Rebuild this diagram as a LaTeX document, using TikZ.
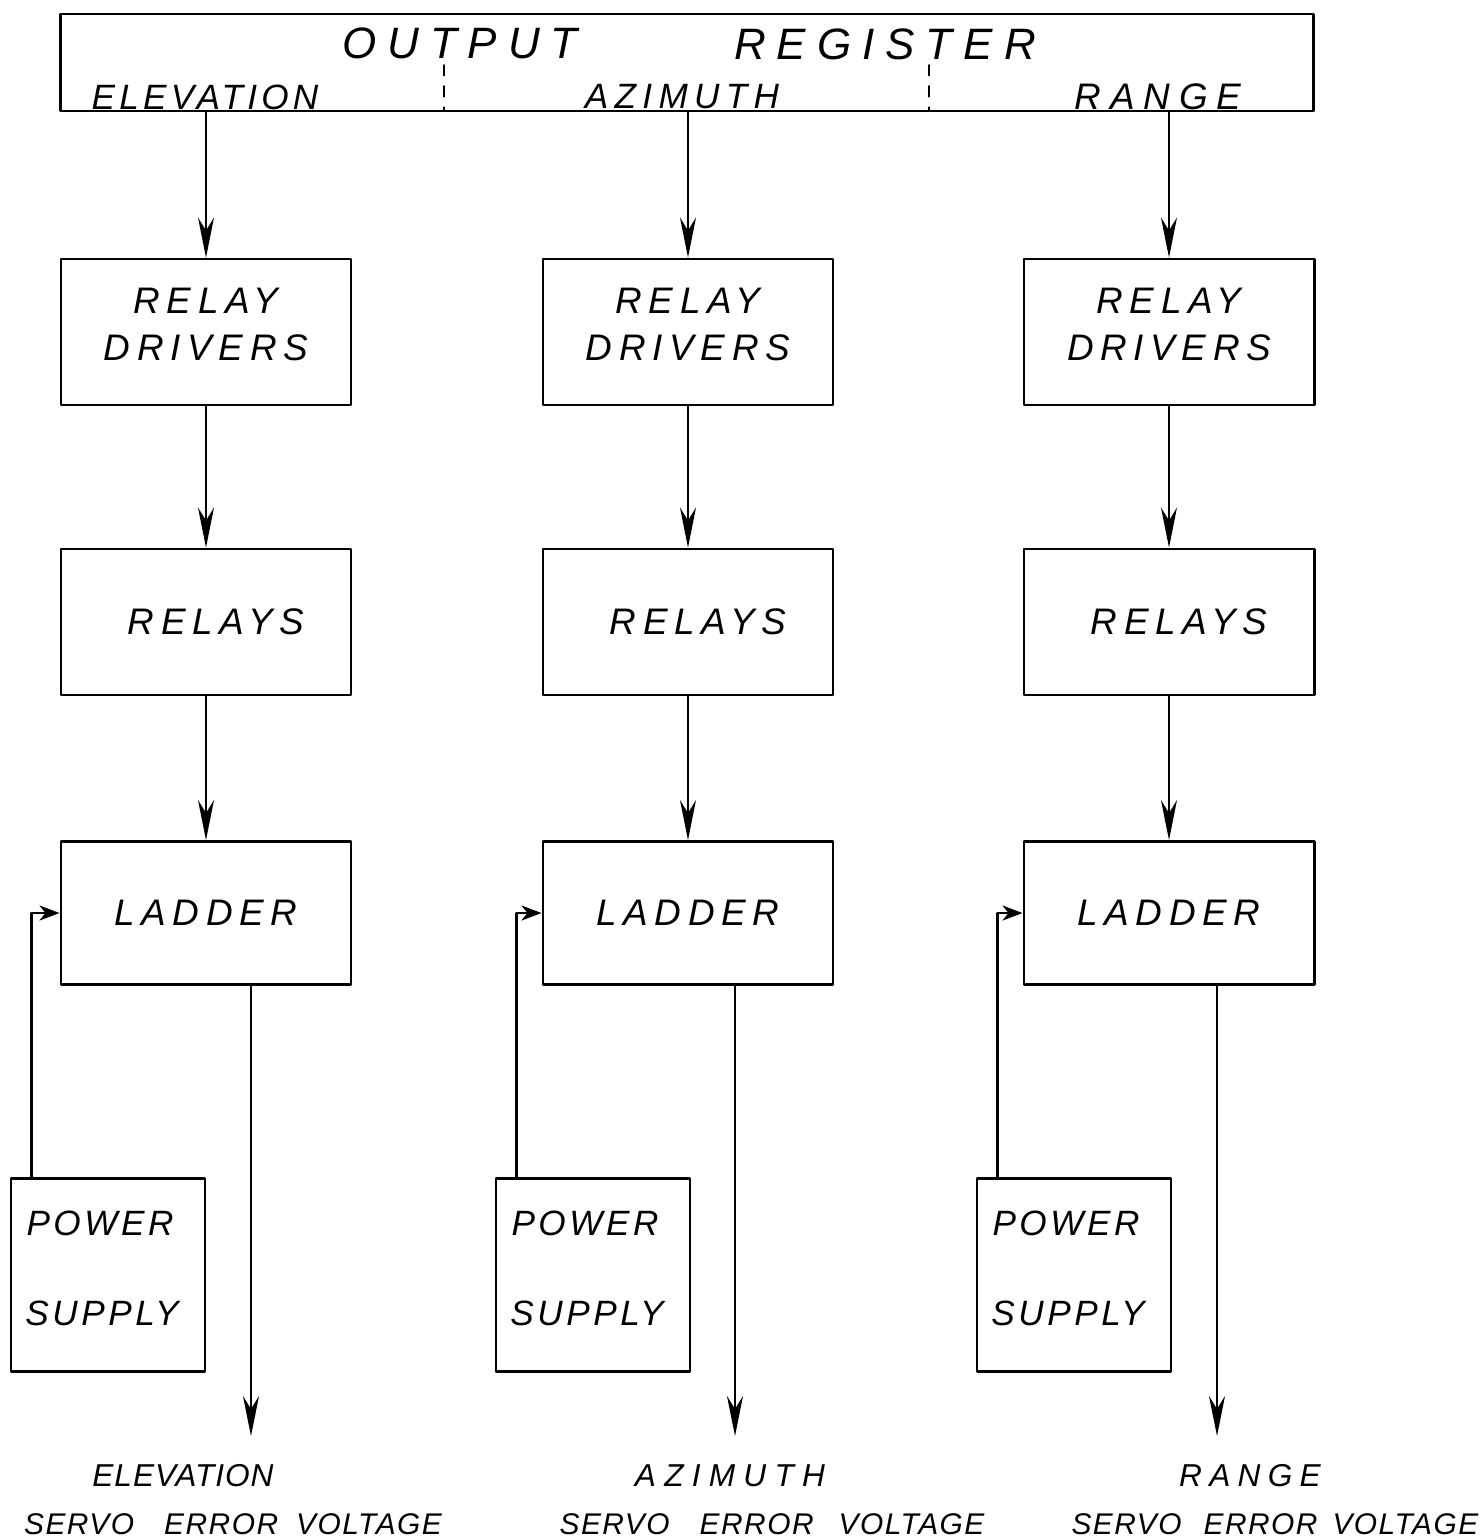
\documentclass[tikz,border=0pt]{standalone}
\usepackage{fontspec}
\usetikzlibrary{arrows.meta}
\newfontfamily\lettering[LetterSpace=18]{Liberation Sans}

\begin{document}
\begin{tikzpicture}[
  x=0.01cm,
  y=-0.01cm,
  line cap=round,
  line join=round,
  block/.style={draw, line width=0.8pt, minimum width=2.9cm,
    minimum height=1.46cm, align=center, inner sep=0pt,
    font=\lettering\itshape\fontsize{10.5}{13.3}\selectfont},
  supply/.style={block, minimum width=1.94cm, minimum height=1.93cm,
    font=\lettering\addfontfeature{LetterSpace=10}\itshape\fontsize{10}{12}\selectfont},
  flow/.style={line width=0.7pt,
    -{Stealth[length=4mm,width=1.6mm,inset=1.3mm]}},
  feed/.style={line width=0.7pt,
    -{Stealth[length=2mm,width=1.5mm,inset=0.6mm]}},
  big/.style={inner sep=0pt,
    font=\lettering\addfontfeature{LetterSpace=25}\itshape\fontsize{12.5}{14}\selectfont},
  lbl/.style={inner sep=0pt, font=\lettering\itshape\fontsize{10}{12}\selectfont},
  foot/.style={inner sep=0pt,
    font=\lettering\addfontfeature{LetterSpace=5}\itshape\fontsize{8.5}{10}\selectfont}
]
  \useasboundingbox (0,0) rectangle (1482,1539);

  % Регистр вывода
  \node[draw, line width=0.8pt, minimum width=12.52cm, minimum height=0.97cm]
    (reg) at (687,62.5) {};
  \node[big] (regA) at (460,43) {OUTPUT};
  \node[big] (regB) at (885,44) {REGISTER};
  \node[lbl, font=\lettering\addfontfeature{LetterSpace=12}\itshape\fontsize{10}{12}\selectfont]
    (regE) at (205,97) {ELEVATION};
  \node[lbl] (regZ) at (682,97) {AZIMUTH};
  \node[lbl, font=\lettering\addfontfeature{LetterSpace=24}\itshape\fontsize{10.5}{12}\selectfont]
    (regR) at (1158,97) {RANGE};

  % Разделители полей
  \draw[dashed, line width=0.5pt] (444,65) -- (444,111);
  \draw[dashed, line width=0.5pt] (929,65) -- (929,111);

  % Каналы: x центра, x выхода, x питания, подпись
  \foreach \n/\cx/\ox/\px/\name/\nx/\ls in {
      e/206/251/108/ELEVATION/183/3,
      z/688/735/593/AZIMUTH/730/26,
      r/1169/1217/1074/RANGE/1250/23} {
    \node[block] (drv\n) at (\cx,332) {\raisebox{0.16cm}{RELAY}\\\raisebox{0.16cm}{DRIVERS}};
    \node[block] (rel\n) at (\cx,622) {\raisebox{-0.14cm}{\hspace{0.2cm}RELAYS}};
    \node[block, minimum height=1.43cm] (lad\n) at (\cx,913) {\raisebox{-0.14cm}{LADDER}};
    \node[supply] (ps\n) at (\px,1275)
      {\raisebox{0.13cm}{POWER}\hspace*{0.16cm}\\[0.48cm]\raisebox{0.13cm}{SUPPLY}\hspace*{0.12cm}};

    \coordinate (in\n) at (\cx,111);
    \coordinate (out\n) at (\ox,1436);

    \draw[flow] (in\n) -- (drv\n);
    \draw[flow] (drv\n) -- (rel\n);
    \draw[flow] (rel\n) -- (lad\n);
    \draw[feed] ([xshift=0.22cm]ps\n.north west) |- (lad\n.west);
    \draw[flow] (lad\n.south -| out\n) -- (out\n);

    \node[foot, font=\lettering\addfontfeature{LetterSpace=\ls}\itshape\fontsize{9}{11}\selectfont]
      (nm\n) at (\nx,1476) {\name};
  }

  % Подписи выходов
  \node[foot] (sve) at (233,1524) {SERVO\hspace{0.3cm}ERROR\hspace{0.18cm}VOLTAGE};
  \node[foot] (svz) at (772,1524) {SERVO\hspace{0.3cm}ERROR\hspace{0.25cm}VOLTAGE};
  \node[foot, anchor=east] (svr) at (1479,1524) {SERVO\hspace{0.22cm}ERROR\hspace{0.15cm}VOLTAGE};
\end{tikzpicture}
\end{document}
